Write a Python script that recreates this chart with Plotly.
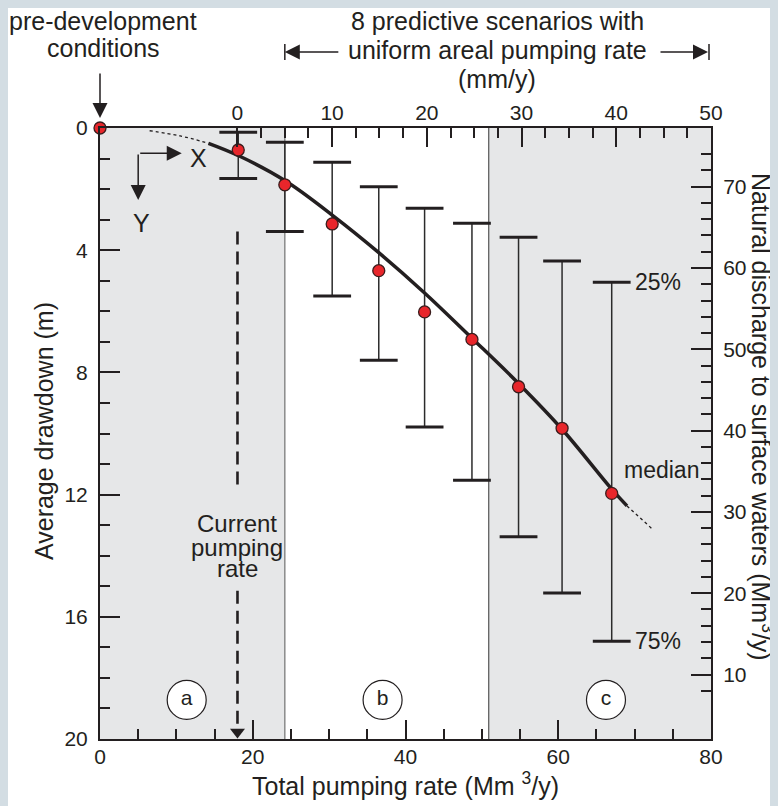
import plotly.graph_objects as go

# ---------------- data ----------------
top_ticks = [0, 10, 20, 30, 40, 50]                     # uniform areal pumping rate (mm/y)
top_minor = [2.5, 5, 7.5, 12.5, 15, 17.5, 22.5, 25, 27.5, 32.5, 35, 37.5, 42.5, 45, 47.5]
bottom_ticks = [0, 20, 40, 60, 80]                       # total pumping rate (Mm3/y)
left_ticks = [0, 4, 8, 12, 16, 20]                       # average drawdown (m)
right_ticks = [10, 20, 30, 40, 50, 60, 70]               # natural discharge (Mm3/y)
right_minor = [8, 12, 14, 16, 18, 22, 24, 26, 28, 32, 34, 36, 38, 42, 44, 46, 48,
               52, 54, 56, 58, 62, 64, 66, 68, 72, 74]

total_pumping = [18.1, 24.2, 30.4, 36.5, 42.5, 48.7, 54.8, 60.5, 67.0]
median_dd = [0.72, 1.86, 3.14, 4.67, 6.02, 6.92, 8.47, 9.83, 11.96]
p25_dd = [0.14, 0.47, 1.12, 1.92, 2.63, 3.12, 3.58, 4.35, 5.05]
p75_dd = [1.65, 3.39, 5.50, 7.60, 9.79, 11.53, 13.38, 15.22, 16.80]

predev_pumping = [0]
predev_dd = [0]

fit_x = [14.2, 18.1, 24.2, 30.4, 36.5, 42.5, 48.7, 54.8, 60.5, 67.0, 69.0]
fit_y = [0.50, 0.90, 1.72, 2.85, 4.08, 5.40, 6.88, 8.36, 9.86, 11.82, 12.37]
extrap_low_x = [6.5, 10.5, 14.2]
extrap_low_y = [0.09, 0.26, 0.50]
extrap_high_x = [69.0, 72.2]
extrap_high_y = [12.37, 13.1]

current_rate = 18.0
current_dash_y = [3.39, 11.75, None, 15.15, 19.5]
zone_bounds = [0, 24.2, 50.9, 80]
zone_labels = ["a", "b", "c"]
zone_label_x = [11.35, 37.0, 66.25]
zone_label_y = [18.72, 18.72, 18.72]

# ---------------- layout geometry ----------------
# the page body keeps its default 8 px margin; the figure sits at (8, 8)
OFF = 8
W, H = 778 - OFF, 806 - OFF
X0, X1, Y0, Y1 = 100, 711, 128, 739          # plot area in page pixels
ML, MR, MT, MB = X0 - OFF, 778 - X1, Y0 - OFF, 806 - Y1
PW, PH = X1 - X0, Y1 - Y0
FONT = "Liberation Sans, Arial, Helvetica, sans-serif"
INK = "#231f20"
GREY = "#e6e7e8"
FRAME = "#d3dde3"


def pxx(p):
    return (p - X0) / PW


def pxy(p):
    return (Y1 - p) / PH


fig = go.Figure()

# error bar stems
sx, sy = [], []
for x, a, b in zip(total_pumping, p25_dd, p75_dd):
    sx += [x, x, None]
    sy += [a, b, None]
fig.add_trace(go.Scatter(x=sx, y=sy, mode="lines", line=dict(color="#2b2b2b", width=1.5),
                         hoverinfo="skip", showlegend=False))
# caps
fig.add_trace(go.Scatter(x=total_pumping + total_pumping, y=p25_dd + p75_dd, mode="markers",
                         marker=dict(symbol="line-ew", size=27, line=dict(width=3, color=INK)),
                         hoverinfo="skip", showlegend=False))
# fitted curve and extrapolations
fig.add_trace(go.Scatter(x=fit_x, y=fit_y, mode="lines",
                         line=dict(color=INK, width=3.5, shape="spline", smoothing=1.0),
                         showlegend=False, hoverinfo="skip"))
fig.add_trace(go.Scatter(x=extrap_low_x, y=extrap_low_y, mode="lines",
                         line=dict(color=INK, width=1.3, dash="dot", shape="spline"),
                         showlegend=False, hoverinfo="skip"))
fig.add_trace(go.Scatter(x=extrap_high_x, y=extrap_high_y, mode="lines",
                         line=dict(color=INK, width=1.3, dash="dot"),
                         showlegend=False, hoverinfo="skip"))
# current pumping rate dashed arrow
fig.add_trace(go.Scatter(x=[current_rate] * len(current_dash_y), y=current_dash_y, mode="lines",
                         line=dict(color=INK, width=2.6, dash="13px,7px"),
                         showlegend=False, hoverinfo="skip"))
fig.add_trace(go.Scatter(x=[current_rate], y=[19.77], mode="markers",
                         marker=dict(symbol="triangle-down", size=13, color=INK),
                         showlegend=False, hoverinfo="skip"))
# medians
fig.add_trace(go.Scatter(x=total_pumping, y=median_dd, mode="markers",
                         marker=dict(size=12, color="#e8262b", line=dict(width=1.3, color="#3a1c1c")),
                         showlegend=False, hoverinfo="skip"))
fig.add_trace(go.Scatter(x=predev_pumping, y=predev_dd, mode="markers", cliponaxis=False,
                         marker=dict(size=12, color="#e8262b", line=dict(width=1.3, color="#3a1c1c")),
                         showlegend=False, hoverinfo="skip"))
# zone labels
fig.add_trace(go.Scatter(x=zone_label_x, y=zone_label_y, mode="markers+text", text=zone_labels,
                         textposition="middle center",
                         textfont=dict(size=21, color=INK, family=FONT),
                         marker=dict(size=39, color="white", line=dict(width=1.2, color=INK)),
                         showlegend=False, hoverinfo="skip"))
# dummy trace for secondary axes
fig.add_trace(go.Scatter(x=[None], y=[None], xaxis="x2", yaxis="y2", showlegend=False,
                         hoverinfo="skip"))

shapes = []
# plot-area shading
shapes.append(dict(type="rect", xref="x", yref="paper", x0=zone_bounds[0], x1=zone_bounds[1],
                   y0=0, y1=1, fillcolor=GREY, line=dict(width=0), layer="below"))
shapes.append(dict(type="rect", xref="x", yref="paper", x0=zone_bounds[2], x1=zone_bounds[3],
                   y0=0, y1=1, fillcolor=GREY, line=dict(width=0), layer="below"))
shapes.append(dict(type="line", xref="x", yref="paper", x0=zone_bounds[1], x1=zone_bounds[1],
                   y0=0, y1=1, line=dict(color="#7a7a7a", width=1.3), layer="below"))
shapes.append(dict(type="line", xref="x", yref="paper", x0=zone_bounds[2], x1=zone_bounds[2],
                   y0=0, y1=1, line=dict(color="#444", width=1.1), layer="below"))
# bracket bars of the "8 predictive scenarios" arrows
shapes.append(dict(type="line", xref="paper", yref="paper", x0=zone_bounds[1] / 80,
                   x1=zone_bounds[1] / 80, y0=pxy(60), y1=pxy(44), line=dict(color=INK, width=1.5)))
shapes.append(dict(type="line", xref="paper", yref="paper", x0=pxx(709), x1=pxx(709),
                   y0=pxy(60), y1=pxy(44), line=dict(color=INK, width=1.5)))

ann = []


def text(x, y, s, size=25, xref="paper", yref="paper", xanchor="center", **kw):
    d = dict(x=x, y=y, xref=xref, yref=yref, text=s, showarrow=False,
             xanchor=xanchor, yanchor="middle",
             font=dict(size=size, color=INK, family=FONT))
    d.update(kw)
    ann.append(d)


def arrow(x, y, ax, ay, xref="paper", yref="paper"):
    ann.append(dict(x=x, y=y, xref=xref, yref=yref, ax=ax, ay=ay, text="", showarrow=True,
                    arrowhead=2, arrowsize=2, arrowwidth=1.5, arrowcolor=INK, standoff=0))


text(pxx(103), pxy(21), "pre-development")
text(pxx(103), pxy(48), "conditions")
arrow(0, pxy(118), 0, -46, xref="x")
text(pxx(497), pxy(21), "8 predictive scenarios with")
text(pxx(497), pxy(50), "uniform areal pumping rate")
text(pxx(497), pxy(79), "(mm/y)")
arrow(zone_bounds[1], pxy(52), 55, 0, xref="x")
arrow(pxx(708), pxy(52), -49, 0)
# X / Y orientation arrows
arrow(10.7, 0.83, -43, 0, xref="x", yref="y")
arrow(5.0, 2.36, 0, -47, xref="x", yref="y")
text(12.9, 0.98, "X", xref="x", yref="y")
text(5.45, 3.12, "Y", xref="x", yref="y")
# current pumping rate
text(current_rate, 12.96, "Current", size=24, xref="x", yref="y")
text(current_rate, 13.72, "pumping", size=24, xref="x", yref="y")
text(current_rate, 14.42, "rate", size=24, xref="x", yref="y")
# percentile / median labels
text(69.8, p25_dd[-1], "25%", size=23, xref="x", yref="y", xanchor="left")
text(69.8, p75_dd[-1], "75%", size=23, xref="x", yref="y", xanchor="left")
text(pxx(701), pxy(470), "median", size=23, xanchor="right")
# axis titles
text(pxx(405), pxy(784), "Total pumping rate (Mm <sup>3</sup>/y)")
text(pxx(44), pxy(431), "Average drawdown (m)", textangle=-90)
text(pxx(762), pxy(417), "Natural discharge to surface waters (Mm<sup>3</sup>/y)", textangle=90)

tick_font = dict(size=21, color=INK, family=FONT)
axis_common = dict(showgrid=False, zeroline=False, showline=True, linecolor=INK, linewidth=2,
                   ticks="inside", tickcolor=INK, tickwidth=1.5, tickfont=tick_font)

fig.update_layout(
    width=W, height=H, autosize=False,
    margin=dict(l=ML, r=MR, t=MT, b=MB),
    paper_bgcolor="white", plot_bgcolor="white",
    font=dict(family=FONT, color=INK),
    showlegend=False,
    xaxis=dict(range=[0, 80], tickmode="array", tickvals=bottom_ticks, ticklen=19,
               minor=dict(tickmode="linear", tick0=0, dtick=5, ticklen=10, ticks="inside",
                          tickcolor=INK, tickwidth=1.5),
               ticklabelstandoff=-2, **axis_common),
    xaxis2=dict(range=[-14.5, 50], overlaying="x", side="top", anchor="y",
                tickmode="array", tickvals=top_ticks, ticklen=19,
                minor=dict(tickmode="array", tickvals=top_minor, ticklen=10, ticks="inside",
                           tickcolor=INK, tickwidth=1.5),
                ticklabelstandoff=-2, **axis_common),
    yaxis=dict(range=[20, 0], tickmode="array", tickvals=left_ticks, ticklen=20,
               minor=dict(tickmode="linear", tick0=0, dtick=1, ticklen=10, ticks="inside",
                          tickcolor=INK, tickwidth=1.5),
               ticklabelstandoff=6, **axis_common),
    yaxis2=dict(range=[2.07, 77.22], overlaying="y", side="right", anchor="x",
                tickmode="array", tickvals=right_ticks, ticklen=20,
                minor=dict(tickmode="array", tickvals=right_minor, ticklen=10, ticks="inside",
                           tickcolor=INK, tickwidth=1.5),
                ticklabelstandoff=6, **axis_common),
    shapes=shapes,
    annotations=ann,
)

fig.write_html("out.html",
               post_script="document.body.style.backgroundColor='%s';" % FRAME)
